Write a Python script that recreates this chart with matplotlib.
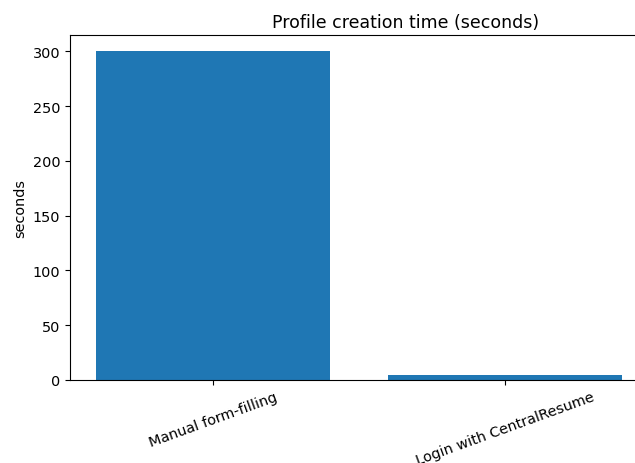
import matplotlib
matplotlib.use("Agg")
import matplotlib.pyplot as plt

methods = ["Manual form-filling", "Login with CentralResume"]
seconds = [300, 5]

plt.rcParams["font.size"] = 10.4

fig = plt.figure(figsize=(6.35, 4.64), dpi=100)
# the reference is a crop: the axes run past the right edge of the picture
ax = fig.add_axes([70 / 635, 1 - 381 / 464, 578 / 635, 345 / 464])

ax.bar(methods, seconds, color="#1f77b4")
ax.set_ylabel("seconds")
ax.set_title("Profile creation time (seconds)", x=(406 - 70) / 578, fontsize=12.5)
plt.setp(ax.get_xticklabels(), rotation=20, ha="center")

fig.savefig("out.png", dpi=100)
